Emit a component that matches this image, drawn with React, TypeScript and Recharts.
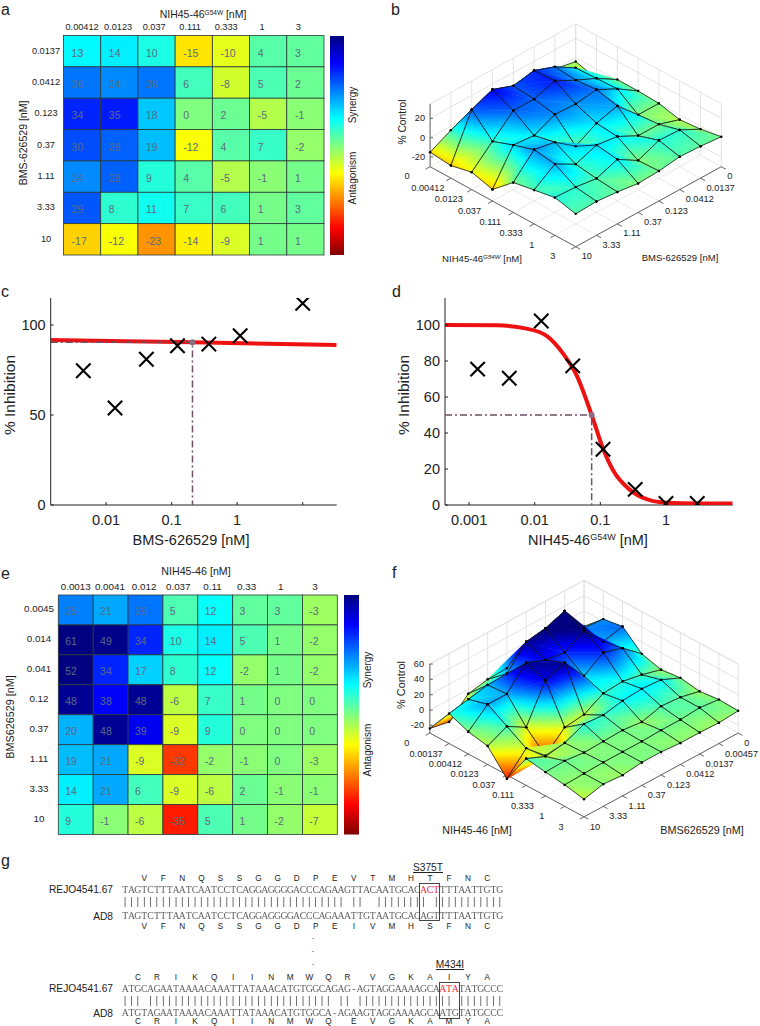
import React from 'react';
import { ScatterChart, Scatter, XAxis, YAxis, BarChart, Bar } from 'recharts';

const FF = '"Liberation Sans", Arial, sans-serif';

// panel a
const aCols = ['0.00412', '0.0123', '0.037', '0.111', '0.333', '1', '3'];
const aRows = ['0.0137', '0.0412', '0.123', '0.37', '1.11', '3.33', '10'];
const aValues = [
  [13, 14, 10, -15, -10, 4, 3],
  [26, 24, 26, 6, -8, 5, 2],
  [34, 35, 18, 0, 2, -5, -1],
  [30, 28, 19, -12, 4, 7, -2],
  [24, 28, 9, 4, -5, -1, 1],
  [29, 8, 11, 7, 6, 1, 3],
  [-17, -12, -23, -14, -9, 1, 1],
];

// panel e
const eCols = ['0.0013', '0.0041', '0.012', '0.037', '0.11', '0.33', '1', '3'];
const eRows = ['0.0045', '0.014', '0.041', '0.12', '0.37', '1.11', '3.33', '10'];
const eValues = [
  [25, 21, 26, 5, 12, 3, 3, -3],
  [61, 49, 34, 10, 14, 5, 1, -2],
  [52, 34, 17, 8, 12, -2, 1, -2],
  [48, 38, 48, -6, 7, 1, 0, 0],
  [20, 48, 39, -9, 9, 0, 0, 0],
  [19, 21, -9, -32, -2, -1, 0, -3],
  [14, 21, 6, -9, -6, 2, -1, -1],
  [9, -1, -6, -35, 5, 1, -2, -7],
];

// panel b surface, rows BMS-626529, columns NIH45-46 G54W
const bNih = ['0', '0.00412', '0.0123', '0.037', '0.111', '0.333', '1', '3'];
const bBms = ['0', '0.0137', '0.0412', '0.123', '0.37', '1.11', '3.33', '10'];
const bSurface = [
  [-4, -10, 1, 1, 0, -5, -3, 1],
  [0, 13, 14, 15, 0, 2, 8, 3],
  [0, 26, 24, 26, 21, 2, 9, 4],
  [0, 34, 35, 23, 15, 13, 0, 1],
  [0, 30, 28, 24, 3, 16, 13, 0],
  [0, 38, 28, 14, 19, 8, 5, 3],
  [-4, 29, 8, 16, 23, 20, 8, 5],
  [-15, -17, -12, -18, 1, 5, 9, 4],
];

// panel f surface, rows BMS626529, columns NIH45-46
const fNih = ['0', '0.00137', '0.00412', '0.0123', '0.037', '0.111', '0.333', '1', '3'];
const fBms = ['0', '0.00457', '0.0137', '0.0412', '0.123', '0.37', '1.11', '3.33', '10'];
const fSurface = [
  [0, 23, 27, 5, -2, 1, -3, 0, -1],
  [0, 25, 21, 26, 5, 12, 3, 3, -3],
  [0, 61, 49, 34, 10, 14, 5, 1, -2],
  [0, 52, 34, 17, 8, 12, -2, 1, -2],
  [0, 48, 38, 48, -6, 7, 1, 0, 0],
  [-1, 20, 48, 39, -9, 9, 0, 0, 0],
  [-6, 19, 21, -9, -32, -2, -1, 0, -3],
  [-29, 14, 21, 6, -9, -6, 2, -1, -1],
  [-24, 9, -1, -6, -35, 5, 1, -2, -7],
];

// panel c
const cDose = [0.0045, 0.0137, 0.0412, 0.123, 0.37, 1.11, 10];
const cInhibition = [74.6, 53.9, 81, 88.5, 89.4, 94, 112];
const cFitDose = [0.00143, 0.208, 33];
const cFitInhibition = [91.7, 90.4, 88.9];
const cIc = [0.208, 90.4];

// panel d
const dDose = [0.00135, 0.0041, 0.0126, 0.038, 0.11, 0.34, 1, 3];
const dInhibition = [75.5, 70.4, 102.2, 77.3, 31, 8.7, 0.8, 0.8];
const dFitDose = [0.00043, 0.00262, 0.0075, 0.0152, 0.0273, 0.0436, 0.0738, 0.111, 0.158, 0.283, 0.509, 1.03, 2.94, 10.4];
const dFitInhibition = [100, 99.8, 98, 94, 84, 72, 50, 31, 19, 8.4, 3.2, 1.2, 0.9, 0.9];
const dIc = [0.0738, 50];

// panel g
const seq1Top = 'TAGTCTTTAATCAATCCTCAGGAGGGGACCCAGAAGTTACAATGCACACTTTTAATTGTG';
const seq1Bottom = 'TAGTCTTTAATCAATCCTCAGGAGGGGACCCAGAAATTGTAATGCACAGTTTTAATTGTG';
const aa1Top = 'VFNQSSGGDPEVTMHTFNC';
const aa1Bottom = 'VFNQSSGGDPEIVMHSFNC';
const seq2Top = 'ATGCAGAATAAAACAAATTATAAACATGTGGCAGAG-AGTAGGAAAAGCAATATATGCCC';
const seq2Bottom = 'ATGTAGAATAAAACAAATTATAAACATGTGGCA-AGAAGTAGGAAAAGCAATGTATGCCC';
const aa2Top = 'CRIKQIINMWQRVGKAIYA';
const aa2Bottom = 'CRIKQIINMWQEVGKAMYA';

const clamp01 = (v: number) => Math.max(0, Math.min(1, v));
const jetT = (t: number) => {
  const r = clamp01(Math.min(4 * t - 1.5, -4 * t + 4.5));
  const g = clamp01(Math.min(4 * t - 0.5, -4 * t + 3.5));
  const b = clamp01(Math.min(4 * t + 0.5, -4 * t + 2.5));
  return `rgb(${Math.round(r * 255)},${Math.round(g * 255)},${Math.round(b * 255)})`;
};
const jet = (v: number) => jetT(clamp01(0.5 - v / 100));

const Heatmap = ({ left, top, width, height, gridTop, gridLeft, gridRight, gridBottom, cols, rows, values, rowLabelX, drift, labelSize }: any) => {
  const cellW = (gridRight - gridLeft) / cols.length;
  const cellH = (gridBottom - gridTop) / rows.length;
  const cells: any[] = [];
  values.forEach((row: number[], r: number) => row.forEach((v, c) => cells.push({ x: c + 0.5, y: r + 0.5, v })));

  const drawCell = (p: any) => (
    <g>
      <rect x={p.cx - cellW / 2} y={p.cy - cellH / 2} width={cellW} height={cellH} fill={jet(p.payload.v)} stroke="#2b3a3a" strokeWidth={0.8} />
      <text x={p.cx - 10.5} y={p.cy + 5.5} textAnchor="start" fontFamily={FF} fontSize={10.5} fill="#5b6b7f">{p.payload.v}</text>
    </g>
  );

  return (
    <div style={{ position: 'absolute', left, top }}>
      <ScatterChart width={width} height={height} margin={{ top: 0, left: 0, right: width - gridRight, bottom: height - gridBottom }}>
        <XAxis
          type="number" dataKey="x" domain={[0, cols.length]} ticks={cols.map((_: any, i: number) => i + 0.5)}
          orientation="top" height={gridTop} axisLine={false} tickLine={false} interval={0}
          tick={(p: any) => (
            <text x={p.x + p.index * drift} y={gridTop - 5.5} textAnchor="middle" fontFamily={FF} fontSize={labelSize} fill="#222">
              {cols[Math.floor(p.payload.value)]}
            </text>
          )}
        />
        <YAxis
          type="number" dataKey="y" domain={[0, rows.length]} reversed ticks={rows.map((_: any, i: number) => i + 0.5)}
          width={gridLeft} axisLine={false} tickLine={false} interval={0}
          tick={(p: any) => (
            <text x={rowLabelX} y={p.y + 2.5} textAnchor="middle" fontFamily={FF} fontSize={labelSize} fill="#222">
              {rows[Math.floor(p.payload.value)]}
            </text>
          )}
        />
        <Scatter data={cells} isAnimationActive={false} shape={drawCell} />
      </ScatterChart>
    </div>
  );
};

const ColorBar = ({ id, left, top, width, height }: any) => {
  const stops = Array.from({ length: 33 }, (_, i) => i / 32);
  return (
    <div style={{ position: 'absolute', left, top }}>
      <BarChart width={width} height={height} data={[{ v: 1 }]} margin={{ top: 0, left: 0, right: 0, bottom: 0 }} barCategoryGap={0}>
        <defs>
          <linearGradient id={id} x1="0" y1="0" x2="0" y2="1">
            {stops.map((t) => <stop key={t} offset={t} stopColor={jetT(t)} />)}
          </linearGradient>
        </defs>
        <XAxis hide />
        <YAxis hide domain={[0, 1]} />
        <Bar dataKey="v" fill={`url(#${id})`} isAnimationActive={false} />
      </BarChart>
    </div>
  );
};

const noPoint = () => <g />;

const segments = (stroke: string, w: number) => (props: any) => {
  let d = '';
  for (let k = 0; k + 1 < props.points.length; k += 2) {
    const a = props.points[k];
    const b = props.points[k + 1];
    d += `M${a.x},${a.y}L${b.x},${b.y}`;
  }
  return <path d={d} fill="none" stroke={stroke} strokeWidth={w} />;
};

// one triangle of the surface, shaded along its own colour gradient
const triangle = (id: string, a: any, b: any, c: any) => {
  const pts = [a, b, c].sort((p, q) => p.z - q.z);
  const [lo, mid, hi] = pts;
  const d = `M${a.x},${a.y}L${b.x},${b.y}L${c.x},${c.y}Z`;
  const e1 = { x: mid.x - lo.x, y: mid.y - lo.y, z: mid.z - lo.z };
  const e2 = { x: hi.x - lo.x, y: hi.y - lo.y, z: hi.z - lo.z };
  const det = e1.x * e2.y - e2.x * e1.y;
  if (Math.abs(det) < 1e-6 || hi.z - lo.z < 1e-6) {
    return <path key={id} d={d} fill={jet(lo.z)} stroke={jet(lo.z)} strokeWidth={0.5} />;
  }
  const gx = (e1.z * e2.y - e2.z * e1.y) / det;
  const gy = (e1.x * e2.z - e2.x * e1.z) / det;
  const span = (hi.z - lo.z) / (gx * gx + gy * gy);
  const steps = [0, 0.125, 0.25, 0.375, 0.5, 0.625, 0.75, 0.875, 1];
  return (
    <g key={id}>
      <defs>
        <linearGradient id={id} gradientUnits="userSpaceOnUse" x1={lo.x} y1={lo.y} x2={lo.x + gx * span} y2={lo.y + gy * span}>
          {steps.map((s) => <stop key={s} offset={s} stopColor={jet(lo.z + s * (hi.z - lo.z))} />)}
        </linearGradient>
      </defs>
      <path d={d} fill={`url(#${id})`} stroke={`url(#${id})`} strokeWidth={0.5} />
    </g>
  );
};

const Surface = ({ id, left, top, width, height, origin, step, zScale, zRange, zTicks, grid, nihLabels, bmsLabels, nihOffset, bmsOffset, zLabelX }: any) => {
  const n = grid.length - 1;
  const [zMin, zMax] = zRange;
  const project = (i: number, j: number, z: number) => ({
    x: origin[0] + step[0] * (i - j),
    y: origin[1] + step[1] * (i + j) - (z - zMin) * zScale,
  });

  const walls: any[] = [];
  const floor: any[] = [];
  const axes: any[] = [];
  for (let k = 0; k <= n; k++) {
    walls.push(project(k, 0, zMin), project(k, 0, zMax), project(0, k, zMin), project(0, k, zMax));
    floor.push(project(k, 0, zMin), project(k, n, zMin), project(0, k, zMin), project(n, k, zMin));
    axes.push(project(k, n, zMin), project(k, n + 0.22, zMin), project(n, k, zMin), project(n + 0.22, k, zMin));
  }
  zTicks.forEach((z: number) => {
    walls.push(project(0, n, z), project(0, 0, z), project(0, 0, z), project(n, 0, z));
    const p = project(0, n, z);
    axes.push(p, { x: p.x + 3, y: p.y });
  });
  walls.push(project(0, n, zMax), project(0, 0, zMax), project(0, 0, zMax), project(n, 0, zMax));
  axes.push(project(0, n, zMin), project(n, n, zMin), project(n, n, zMin), project(n, 0, zMin), project(0, n, zMin), project(0, n, zMax));

  const quads: any[] = [];
  for (let s = 0; s <= 2 * (n - 1); s++) {
    for (let j = 0; j < n; j++) {
      const i = s - j;
      if (i < 0 || i >= n) continue;
      [[i, j], [i + 1, j], [i + 1, j + 1], [i, j + 1]].forEach(([a, b]) => {
        quads.push({ ...project(a, b, grid[b][a]), z: grid[b][a] });
      });
    }
  }

  const drawSurface = (props: any) => {
    const out: any[] = [];
    for (let k = 0; k + 3 < props.points.length; k += 4) {
      const [a, b, c, d] = [0, 1, 2, 3].map((o) => ({ ...props.points[k + o], z: quads[k + o].z }));
      out.push(triangle(`${id}-${k}a`, a, b, d));
      out.push(triangle(`${id}-${k}b`, b, c, d));
      out.push(<path key={`${id}-${k}m`} d={`M${a.x},${a.y}L${b.x},${b.y}L${c.x},${c.y}L${d.x},${d.y}Z`} fill="none" stroke="#14181c" strokeWidth={0.8} />);
      [a, b, c, d].forEach((p, o) => out.push(<circle key={`${id}-${k}d${o}`} cx={p.x} cy={p.y} r={1.2} fill="#000" />));
    }
    return <g>{out}</g>;
  };

  const labels: any[] = [];
  nihLabels.forEach((label: string, k: number) => {
    const p = project(k, n, zMin);
    labels.push({ x: p.x + nihOffset[0], y: p.y + nihOffset[1], label, anchor: 'middle' });
  });
  bmsLabels.forEach((label: string, k: number) => {
    const p = project(n, k, zMin);
    labels.push({ x: p.x + bmsOffset[0], y: p.y + bmsOffset[1], label, anchor: 'start' });
  });
  zTicks.forEach((z: number) => {
    const p = project(0, n, z);
    labels.push({ x: zLabelX, y: p.y + 3, label: String(z), anchor: 'end' });
  });

  const drawLabel = (p: any) => (
    <text x={p.cx} y={p.cy} textAnchor={p.payload.anchor} fontFamily={FF} fontSize={9.2} fill="#222">{p.payload.label}</text>
  );

  return (
    <div style={{ position: 'absolute', left, top }}>
      <ScatterChart width={width} height={height} margin={{ top: 0, left: 0, right: 0, bottom: 0 }}>
        <XAxis type="number" dataKey="x" domain={[0, width]} hide />
        <YAxis type="number" dataKey="y" domain={[0, height]} reversed hide />
        <Scatter data={walls} isAnimationActive={false} shape={noPoint} line={segments('#dddddd', 0.8)} />
        <Scatter data={floor} isAnimationActive={false} shape={noPoint} line={segments('#e4e4e4', 0.8)} />
        <Scatter data={axes} isAnimationActive={false} shape={noPoint} line={segments('#555555', 0.9)} />
        <Scatter data={quads} isAnimationActive={false} shape={noPoint} line={drawSurface} />
        <Scatter data={labels} isAnimationActive={false} shape={drawLabel} />
      </ScatterChart>
    </div>
  );
};

const drawCross = (p: any) => {
  const r = 7.2;
  return (
    <path d={`M${p.cx - r},${p.cy - r}L${p.cx + r},${p.cy + r}M${p.cx - r},${p.cy + r}L${p.cx + r},${p.cy - r}`} stroke="#000" strokeWidth={2.1} fill="none" />
  );
};

const DoseChart = ({ left, top, width, height, axisX, bottomH, rightGap, domain, xTicks, yTicks, dose, inhibition, fitDose, fitInhibition, ic }: any) => {
  const points = dose.map((x: number, i: number) => ({ x, y: inhibition[i] }));
  const fit = fitDose.map((x: number, i: number) => ({ x, y: fitInhibition[i] }));
  const guide = [{ x: domain[0], y: ic[1] }, { x: ic[0], y: ic[1] }, { x: ic[0], y: 0 }];
  const axisY = height - bottomH;
  return (
    <div style={{ position: 'absolute', left, top }}>
      <ScatterChart width={width} height={height} margin={{ top: 8, left: 0, right: rightGap, bottom: 0 }}>
        <XAxis
          type="number" dataKey="x" scale="log" domain={domain} ticks={xTicks} height={bottomH} allowDataOverflow interval={0}
          axisLine={{ stroke: '#222', strokeWidth: 1 }} tickLine={false}
          tick={(p: any) => (
            <g>
              <line x1={p.x} x2={p.x} y1={axisY} y2={axisY - 3} stroke="#222" />
              {p.payload.value < 5 && (
                <text x={p.x} y={axisY + 20} textAnchor="middle" fontFamily={FF} fontSize={14.5} fill="#222">{p.payload.value}</text>
              )}
            </g>
          )}
        />
        <YAxis
          type="number" dataKey="y" domain={[0, 115]} ticks={yTicks} width={axisX} allowDataOverflow interval={0}
          axisLine={{ stroke: '#222', strokeWidth: 1 }} tickLine={false}
          tick={(p: any) => (
            <g>
              <line x1={axisX} x2={axisX + 3} y1={p.y} y2={p.y} stroke="#222" />
              <text x={axisX - 5} y={p.y + 5} textAnchor="end" fontFamily={FF} fontSize={14.5} fill="#222">{p.payload.value}</text>
            </g>
          )}
        />
        <Scatter data={fit} isAnimationActive={false} shape={noPoint} line={{ stroke: '#ee1111', strokeWidth: 4 }} lineJointType="monotoneX" />
        <Scatter data={guide} isAnimationActive={false} shape={noPoint} line={{ stroke: '#6f4f68', strokeWidth: 1.5, strokeDasharray: '7 3 2 3' }} />
        <Scatter
          data={[{ x: ic[0], y: ic[1] }]} isAnimationActive={false}
          shape={(p: any) => <circle cx={p.cx} cy={p.cy} r={3} fill="#8a6f80" />}
        />
        <Scatter data={points} isAnimationActive={false} shape={drawCross} />
      </ScatterChart>
    </div>
  );
};

const T = ({ x, y, size = 10, rotate, anchor = 'middle', fill = '#222', children, ...rest }: any) => (
  <text
    x={x} y={y} fontFamily={FF} fontSize={size} textAnchor={anchor} fill={fill}
    transform={rotate ? `rotate(${rotate} ${x} ${y})` : undefined} {...rest}
  >
    {children}
  </text>
);

const SEQ_X = 122;
const SEQ_STEP = 6.35;
const charX = (k: number) => SEQ_X + (k + 0.5) * SEQ_STEP;

const Seq = ({ seq, y, red }: any) => {
  const xs = (idx: number[]) => idx.map(charX).join(' ');
  const all = seq.split('').map((_: string, k: number) => k);
  const plain = all.filter((k: number) => !(red && k >= red && k < red + 3));
  return (
    <g fontFamily='"Liberation Serif", serif' fontSize={9.8} textAnchor="middle">
      <text x={xs(plain)} y={y} fill="#5f5f5f" style={{ filter: 'grayscale(1)' }}>{plain.map((k: number) => seq[k]).join('')}</text>
      {red && <text x={xs([red, red + 1, red + 2])} y={y} fill="#e2333b">{seq.slice(red, red + 3)}</text>}
    </g>
  );
};

const Bars = ({ a, b, y }: any) => {
  const idx = a.split('').map((_: string, k: number) => k).filter((k: number) => a[k] === b[k]);
  return (
    <text x={idx.map(charX).join(' ')} y={y} fontFamily={FF} fontSize={10} textAnchor="middle" fill="#555" style={{ filter: 'grayscale(1)' }}>
      {idx.map(() => '|').join('')}
    </text>
  );
};

const Residues = ({ aa, y, pos }: any) => (
  <text x={aa.split('').map((_: string, i: number) => charX(pos(i))).join(' ')} y={y} fontFamily={FF} fontSize={8.2} textAnchor="middle" fill="#222">
    {aa}
  </text>
);

const Overlay = () => (
  <svg width={760} height={1026} style={{ position: 'absolute', left: 0, top: 0, pointerEvents: 'none' }}>
    {/* panel letters */}
    <T x={1} y={15} size={16} anchor="start">a</T>
    <T x={391} y={15} size={16} anchor="start">b</T>
    <T x={1} y={297} size={16} anchor="start">c</T>
    <T x={392} y={297} size={16} anchor="start">d</T>
    <T x={1} y={579} size={16} anchor="start">e</T>
    <T x={392} y={578} size={16} anchor="start">f</T>
    <T x={1} y={866} size={16} anchor="start">g</T>

    {/* a */}
    <T x={203} y={18} size={10.5}>NIH45-46<tspan fontSize={6.5} dy={-3}>G54W</tspan><tspan dy={3}> [nM]</tspan></T>
    <T x={27} y={143} size={10.5} rotate={-90}>BMS-626529 [nM]</T>
    <T x={356} y={105} size={10} rotate={-90}>Synergy</T>
    <T x={356} y={178} size={10} rotate={-90}>Antagonism</T>

    {/* b */}
    <T x={406} y={122} size={10.3} rotate={-90}>% Control</T>
    <T x={482} y={262} size={9.6}>NIH45-46<tspan fontSize={6.2} dy={-3} fontStyle="italic">G54W</tspan><tspan dy={3}> [nM]</tspan></T>
    <T x={680} y={261} size={9.5}>BMS-626529 [nM]</T>

    {/* c */}
    <T x={15} y={395} size={15.5} rotate={-90}>% Inhibition</T>
    <T x={191} y={545} size={14.5}>BMS-626529 [nM]</T>

    {/* d */}
    <T x={409} y={395} size={15.5} rotate={-90}>% Inhibition</T>
    <T x={588} y={545} size={14.5}>NIH45-46<tspan fontSize={9} dy={-5}>G54W</tspan><tspan dy={5}> [nM]</tspan></T>

    {/* e */}
    <T x={196} y={575} size={10.7}>NIH45-46 [nM]</T>
    <T x={14} y={717} size={10.8} rotate={-90}>BMS626529 [nM]</T>
    <T x={371} y={670} size={10} rotate={-90}>Synergy</T>
    <T x={371} y={750} size={10} rotate={-90}>Antagonism</T>

    {/* f */}
    <T x={405} y={685} size={10.9} rotate={-90}>% Control</T>
    <T x={477} y={834} size={10.7}>NIH45-46 [nM]</T>
    <T x={702} y={834} size={10.8}>BMS626529 [nM]</T>

    {/* g */}
    <T x={113} y={893} size={10.2} anchor="end">REJO4541.67</T>
    <T x={113} y={920} size={10.2} anchor="end">AD8</T>
    <T x={113} y={992} size={10.2} anchor="end">REJO4541.67</T>
    <T x={113} y={1017} size={10.2} anchor="end">AD8</T>
    <T x={428} y={871} size={10.2} textDecoration="underline">S375T</T>
    <T x={450} y={968} size={10.2} textDecoration="underline">M434I</T>

    <Residues aa={aa1Top} y={881} pos={(i: number) => 3 + 3 * i} />
    <Seq seq={seq1Top} y={892.5} red={47} />
    <Bars a={seq1Top} b={seq1Bottom} y={905} />
    <Seq seq={seq1Bottom} y={919} />
    <Residues aa={aa1Bottom} y={929} pos={(i: number) => 3 + 3 * i} />

    <T x={313} y={939} size={9}>.</T>
    <T x={313} y={952} size={9}>.</T>
    <T x={313} y={965} size={9}>.</T>

    <Residues aa={aa2Top} y={980} pos={(i: number) => (i <= 11 ? 2 + 3 * i : 3 + 3 * i)} />
    <Seq seq={seq2Top} y={991.5} red={50} />
    <Bars a={seq2Top} b={seq2Bottom} y={1004} />
    <Seq seq={seq2Bottom} y={1016} />
    <Residues aa={aa2Bottom} y={1024} pos={(i: number) => (i <= 10 ? 2 + 3 * i : 3 + 3 * i)} />

    <rect x={419.5} y={883.5} width={20} height={37} fill="none" stroke="#333" strokeWidth={0.9} />
    <rect x={439.5} y={982.5} width={20} height={36} fill="none" stroke="#333" strokeWidth={0.9} />
  </svg>
);

const App = () => (
  <div style={{ position: 'absolute', left: 0, top: 0, width: 760, height: 1026, background: '#fff', overflow: 'hidden' }}>
    <Heatmap
      left={0} top={0} width={328} height={262} gridTop={35.5} gridLeft={63.5} gridRight={324} gridBottom={255}
      cols={aCols} rows={aRows} values={aValues} rowLabelX={46} drift={-1.2} labelSize={9.2}
    />
    <ColorBar id="jetA" left={330} top={35.5} width={13.5} height={219.5} />
    <Surface
      id="surfB" left={380} top={0} width={380} height={290}
      origin={[195.7, 86.7]} step={[20.8, 11.43]} zScale={0.967} zRange={[-30, 35]} zTicks={[-20, 0, 20]}
      grid={bSurface} nihLabels={bNih} bmsLabels={bBms} nihOffset={[-23, 12.5]} bmsOffset={[6, 12.5]} zLabelX={45}
    />
    <DoseChart
      left={0} top={290} width={345} height={260} axisX={50.7} bottomH={45} rightGap={8.3}
      domain={[0.00143, 33]} xTicks={[0.01, 0.1, 1, 10]} yTicks={[0, 50, 100]}
      dose={cDose} inhibition={cInhibition} fitDose={cFitDose} fitInhibition={cFitInhibition} ic={cIc}
    />
    <DoseChart
      left={380} top={290} width={360} height={260} axisX={65} bottomH={45} rightGap={7.3}
      domain={[0.00043, 10.4]} xTicks={[0.001, 0.01, 0.1, 1]} yTicks={[0, 20, 40, 60, 80, 100]}
      dose={dDose} inhibition={dInhibition} fitDose={dFitDose} fitInhibition={dFitInhibition} ic={dIc}
    />
    <Heatmap
      left={0} top={0} width={340} height={840} gridTop={595} gridLeft={58.3} gridRight={337.3} gridBottom={834.5}
      cols={eCols} rows={eRows} values={eValues} rowLabelX={39} drift={-0.7} labelSize={9.8}
    />
    <ColorBar id="jetE" left={344.3} top={595} width={14.7} height={239.5} />
    <Surface
      id="surfF" left={380} top={550} width={380} height={290}
      origin={[204, 99.3]} step={[19.27, 10.47]} zScale={0.767} zRange={[-30, 60]} zTicks={[-20, 0, 20, 40, 60]}
      grid={fSurface} nihLabels={fNih} bmsLabels={fBms} nihOffset={[-23, 13]} bmsOffset={[6, 13]} zLabelX={44}
    />
    <Overlay />
  </div>
);

export default App;
